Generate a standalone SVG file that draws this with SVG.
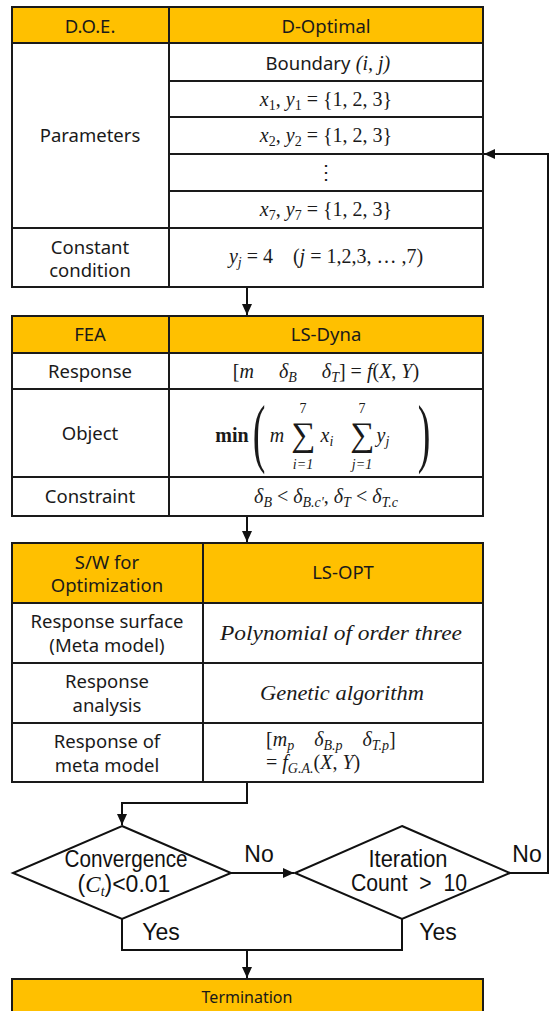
<svg xmlns="http://www.w3.org/2000/svg" width="550" height="1011" viewBox="0 0 550 1011">
<defs>
<style>
.hd{fill:#FFC000;}
.cell{fill:#fff;}
.ln{stroke:#1a1a1a;stroke-width:2;fill:none;}
.t{font-family:"Noto Sans","Open Sans",sans-serif;font-size:18.5px;fill:#1a1a1a;text-anchor:middle;}
.m{font-family:"Liberation Serif","DejaVu Serif",serif;font-size:20px;fill:#1a1a1a;text-anchor:middle;}
.i{font-style:italic;}
.d{font-family:"Liberation Sans Narrow","Liberation Sans",sans-serif;font-size:23px;fill:#111;text-anchor:middle;}
.c{stroke:#111;stroke-width:2;fill:none;}
</style>
<marker id="ah" markerUnits="userSpaceOnUse" markerWidth="12" markerHeight="12" refX="11" refY="6" orient="auto">
<path d="M0,1 L11,6 L0,11 Z" fill="#111"/>
</marker>
</defs>
<rect width="550" height="1011" fill="#fff"/>

<g id="table-doe">
<rect class="hd" x="12" y="7" width="471" height="36"/>
<rect class="cell" x="12" y="43" width="471" height="244"/>
<path class="ln" d="M12,7 H483 V287 H12 Z M12,43 H483 M169,7 V287 M169,81 H483 M169,117 H483 M169,154 H483 M169,191 H483 M12,228 H483"/>
<text class="t" x="90" y="33">D.O.E.</text>
<text class="t" x="326" y="33">D-Optimal</text>
<text class="t" x="90" y="142">Parameters</text>
<text class="t" x="90" y="254">Constant</text>
<text class="t" x="90" y="277">condition</text>
<text class="t" x="308" y="70">Boundary</text>
<text class="m i" x="373" y="70">(i, j)</text>
<text class="m" x="326" y="106"><tspan class="i">x</tspan><tspan dy="4" font-size="14">1</tspan><tspan dy="-4">, </tspan><tspan class="i">y</tspan><tspan dy="4" font-size="14">1</tspan><tspan dy="-4"> = {1, 2, 3}</tspan></text>
<text class="m" x="326" y="142"><tspan class="i">x</tspan><tspan dy="4" font-size="14">2</tspan><tspan dy="-4">, </tspan><tspan class="i">y</tspan><tspan dy="4" font-size="14">2</tspan><tspan dy="-4"> = {1, 2, 3}</tspan></text>
<text class="m" x="326" y="179">⋮</text>
<text class="m" x="326" y="216"><tspan class="i">x</tspan><tspan dy="4" font-size="14">7</tspan><tspan dy="-4">, </tspan><tspan class="i">y</tspan><tspan dy="4" font-size="14">7</tspan><tspan dy="-4"> = {1, 2, 3}</tspan></text>
<text class="m" x="326" y="263" xml:space="preserve"><tspan class="i">y</tspan><tspan dy="4" font-size="14" class="i">j</tspan><tspan dy="-4"> = 4    (</tspan><tspan class="i">j</tspan><tspan> = 1,2,3, … ,7)</tspan></text>
</g>

<g id="table-fea">
<rect class="hd" x="12" y="316" width="471" height="37"/>
<rect class="cell" x="12" y="353" width="471" height="163"/>
<path class="ln" d="M12,316 H483 V516 H12 Z M12,353 H483 M12,389 H483 M12,477 H483 M169,316 V516"/>
<text class="t" x="90" y="341">FEA</text>
<text class="t" x="326" y="341">LS-Dyna</text>
<text class="t" x="90" y="378">Response</text>
<text class="t" x="90" y="440">Object</text>
<text class="t" x="90" y="503">Constraint</text>
<text class="m" x="326" y="378" xml:space="preserve">[<tspan class="i">m</tspan>     <tspan class="i">δ</tspan><tspan dy="4" font-size="14" class="i">B</tspan><tspan dy="-4">     </tspan><tspan class="i">δ</tspan><tspan dy="4" font-size="14" class="i">T</tspan><tspan dy="-4">] = </tspan><tspan class="i">f</tspan>(<tspan class="i">X</tspan>, <tspan class="i">Y</tspan>)</text>
<text class="m" x="232" y="442" style="font-weight:bold">min</text>
<text class="m" x="259" y="458" style="font-size:76px" transform="translate(259 0) scale(0.5 1) translate(-259 0)">(</text>
<text class="m i" x="277" y="442">m</text>
<text class="m" x="303" y="446" style="font-size:34px">∑</text>
<text class="m" x="303" y="413" style="font-size:14px">7</text>
<text class="m i" x="303" y="469" style="font-size:14px">i=1</text>
<text class="m i" x="327" y="442">x<tspan dy="4" font-size="14">i</tspan></text>
<text class="m" x="362" y="446" style="font-size:34px">∑</text>
<text class="m" x="362" y="413" style="font-size:14px">7</text>
<text class="m i" x="362" y="469" style="font-size:14px">j=1</text>
<text class="m i" x="383" y="442">y<tspan dy="4" font-size="14">j</tspan></text>
<text class="m" x="424" y="458" style="font-size:76px" transform="translate(424 0) scale(0.5 1) translate(-424 0)">)</text>
<text class="m" x="326" y="503"><tspan class="i">δ</tspan><tspan dy="4" font-size="14" class="i">B</tspan><tspan dy="-4"> &lt; </tspan><tspan class="i">δ</tspan><tspan dy="4" font-size="14" class="i">B.c'</tspan><tspan dy="-4">, </tspan><tspan class="i">δ</tspan><tspan dy="4" font-size="14" class="i">T</tspan><tspan dy="-4"> &lt; </tspan><tspan class="i">δ</tspan><tspan dy="4" font-size="14" class="i">T.c</tspan></text>
</g>

<g id="table-opt">
<rect class="hd" x="12" y="543" width="471" height="60"/>
<rect class="cell" x="12" y="603" width="471" height="179"/>
<path class="ln" d="M12,543 H483 V782 H12 Z M12,603 H483 M12,663 H483 M12,723 H483 M203,543 V782"/>
<text class="t" x="107" y="569">S/W for</text>
<text class="t" x="107" y="592">Optimization</text>
<text class="t" x="343" y="579">LS-OPT</text>
<text class="t" x="107" y="628">Response surface</text>
<text class="t" x="107" y="652">(Meta model)</text>
<text class="t" x="107" y="688">Response</text>
<text class="t" x="107" y="712">analysis</text>
<text class="t" x="107" y="748">Response of</text>
<text class="t" x="107" y="772">meta model</text>
<text class="m i" x="341" y="640" textLength="242" lengthAdjust="spacingAndGlyphs">Polynomial of order three</text>
<text class="m i" x="342" y="700" textLength="164" lengthAdjust="spacingAndGlyphs">Genetic algorithm</text>
<text class="m" x="266" y="746" style="text-anchor:start" xml:space="preserve">[<tspan class="i">m</tspan><tspan dy="4" font-size="14" class="i">p</tspan><tspan dy="-4">    </tspan><tspan class="i">δ</tspan><tspan dy="4" font-size="14" class="i">B.p</tspan><tspan dy="-4">    </tspan><tspan class="i">δ</tspan><tspan dy="4" font-size="14" class="i">T.p</tspan><tspan dy="-4">]</tspan></text>
<text class="m" x="266" y="769" style="text-anchor:start">= <tspan class="i">f</tspan><tspan dy="4" font-size="14" class="i">G.A.</tspan><tspan dy="-4">(</tspan><tspan class="i">X</tspan>, <tspan class="i">Y</tspan>)</text>
</g>

<g id="decision-convergence">
<polygon class="c" fill="#fff" points="122,826 231,873 122,919 13,873"/>
<text class="d" x="126" y="867" textLength="123" lengthAdjust="spacingAndGlyphs">Convergence</text>
<text class="d" x="124" y="892">(<tspan font-family="Liberation Serif, serif" font-style="italic">C</tspan><tspan font-family="Liberation Serif, serif" font-style="italic" font-size="14" dy="4">t</tspan><tspan dy="-4">)&lt;0.01</tspan></text>
</g>

<g id="decision-iteration">
<polygon class="c" fill="#fff" points="402,826 510,873 402,919 295,873"/>
<text class="d" x="408" y="867" textLength="79" lengthAdjust="spacingAndGlyphs">Iteration</text>
<text class="d" x="409" y="891" xml:space="preserve" textLength="116" lengthAdjust="spacingAndGlyphs">Count  &gt;  10</text>
</g>

<g id="termination">
<rect class="hd" x="12" y="979" width="471" height="40" stroke="#1a1a1a" stroke-width="2"/>
<text class="t" x="247" y="1003" style="font-size:16px">Termination</text>
</g>

<g id="connectors">
<line class="c" x1="247" y1="288" x2="247" y2="315" marker-end="url(#ah)"/>
<line class="c" x1="247" y1="517" x2="247" y2="542" marker-end="url(#ah)"/>
<path class="c" d="M247,783 V803 H122 V825" marker-end="url(#ah)"/>
<line class="c" x1="231" y1="873" x2="294" y2="873" marker-end="url(#ah)"/>
<path class="c" d="M510,873 H548 V154 H484" marker-end="url(#ah)"/>
<path class="c" d="M122,919 V950 H402 V919"/>
<line class="c" x1="247" y1="950" x2="247" y2="978" marker-end="url(#ah)"/>
<text class="d" x="259" y="862">No</text>
<text class="d" x="527" y="862">No</text>
<text class="d" x="161" y="940">Yes</text>
<text class="d" x="438" y="940">Yes</text>
</g>
</svg>
